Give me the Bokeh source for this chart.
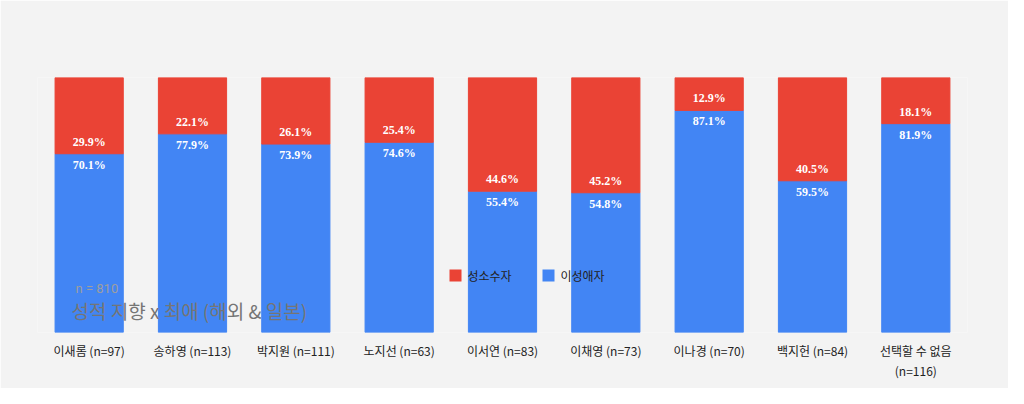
from bokeh.plotting import figure
from bokeh.models import ColumnDataSource, Label, Range1d, LabelSet, BoxAnnotation
from bokeh.embed import file_html
from bokeh.resources import INLINE

categories = ["이새롬 (n=97)", "송하영 (n=113)", "박지원 (n=111)", "노지선 (n=63)", "이서연 (n=83)",
              "이채영 (n=73)", "이나경 (n=70)", "백지헌 (n=84)", "선택할 수 없음\n(n=116)"]
hetero = [70.1, 77.9, 73.9, 74.6, 55.4, 54.8, 87.1, 59.5, 81.9]
minority = [29.9, 22.1, 26.1, 25.4, 44.6, 45.2, 12.9, 40.5, 18.1]
series_names = ["성소수자", "이성애자"]

BG = "#f3f3f3"
BLUE = "#4285f4"
RED = "#ea4335"
FONT = "Noto Sans CJK KR"
NUMFONT = "Roboto"

src = ColumnDataSource(dict(
    cat=categories, hetero=hetero, minority=minority,
    top=[h + m for h, m in zip(hetero, minority)],
    hlab=[f"{v:.1f}%" for v in hetero], mlab=[f"{v:.1f}%" for v in minority],
))

p = figure(x_range=categories, width=1008, height=388, output_backend="svg", toolbar_location=None,
           background_fill_color=BG, border_fill_color=BG, outline_line_color=None,
           min_border_top=77, min_border_bottom=56, min_border_left=37, min_border_right=41)
p.y_range = Range1d(0, 100)
p.vbar(x="cat", top="hetero", bottom=0, width=0.66, color=BLUE, source=src)
p.vbar(x="cat", top="top", bottom="hetero", width=0.66, color=RED, source=src)

p.add_layout(LabelSet(x="cat", y="hetero", text="hlab", source=src, text_color="white", text_font=NUMFONT,
                      text_font_size="12px", text_font_style="bold", text_align="center",
                      text_baseline="middle", y_offset=-11))
p.add_layout(LabelSet(x="cat", y="hetero", text="mlab", source=src, text_color="white", text_font=NUMFONT,
                      text_font_size="12px", text_font_style="bold", text_align="center",
                      text_baseline="middle", y_offset=12))

p.yaxis.visible = False
p.grid.visible = False
p.xaxis.axis_line_color = None
p.xaxis.major_tick_line_color = None
p.xaxis.major_label_text_font = FONT
p.xaxis.major_label_text_font_size = "12px"
p.xaxis.major_label_text_color = "#222222"
p.xaxis.major_label_standoff = 3

p.add_layout(Label(x=34, y=22, x_units="screen", y_units="screen", text="성적 지향 x 최애 (해외 & 일본)",
                   text_font=FONT, text_font_size="19px", text_color="#757575", text_baseline="middle"))
p.add_layout(Label(x=38, y=44, x_units="screen", y_units="screen", text="n = 810",
                   text_font=NUMFONT, text_font_size="13px", text_color="#9e9e9e", text_baseline="middle"))

# legend
for lx, col, name in [(412, RED, series_names[0]), (505, BLUE, series_names[1])]:
    p.add_layout(BoxAnnotation(left=lx, right=lx + 12, top=51, bottom=63, left_units="screen",
                               right_units="screen", top_units="screen", bottom_units="screen",
                               fill_color=col, fill_alpha=1, line_color=None, level="overlay"))
    p.add_layout(Label(x=lx + 18, y=57, x_units="screen", y_units="screen", text=name,
                       text_font=FONT, text_font_size="12px", text_color="#222222", text_baseline="middle"))

open("out.html", "w").write(file_html(p, INLINE))
